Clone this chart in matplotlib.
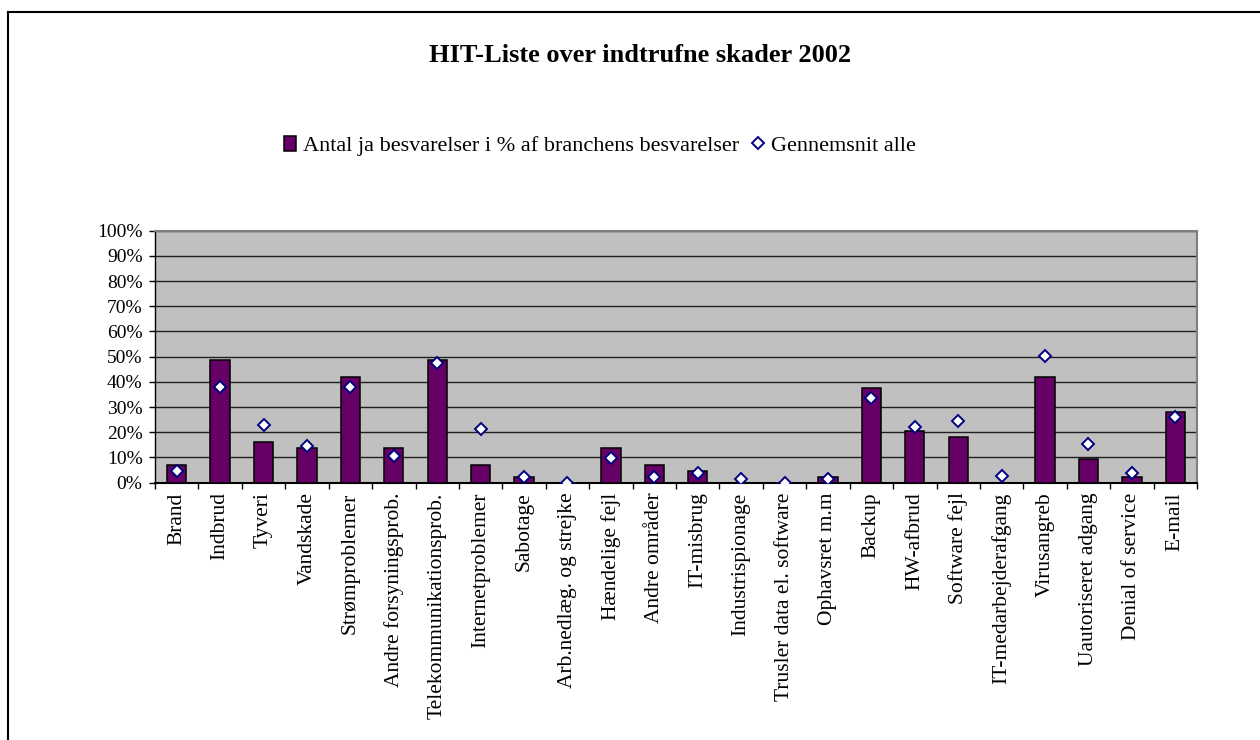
import matplotlib.pyplot as plt
import numpy as np
from matplotlib.lines import Line2D

plt.rcParams["font.family"] = ["Liberation Serif", "DejaVu Serif"]

categories = [
    "Brand",
    "Indbrud",
    "Tyveri",
    "Vandskade",
    "Strømproblemer",
    "Andre forsyningsprob.",
    "Telekommunikationsprob.",
    "Internetproblemer",
    "Sabotage",
    "Arb.nedlæg. og strejke",
    "Hændelige fejl",
    "Andre områder",
    "IT-misbrug",
    "Industrispionage",
    "Trusler data el. software",
    "Ophavsret m.m",
    "Backup",
    "HW-afbrud",
    "Software fejl",
    "IT-medarbejderafgang",
    "Virusangreb",
    "Uautoriseret adgang",
    "Denial of service",
    "E-mail",
]

# Antal ja besvarelser i % af branchens besvarelser
branche_pct = [7.0, 48.7, 16.1, 13.6, 42.1, 13.6, 48.7, 6.9, 2.4, 0.0, 13.6, 6.9,
               4.8, 0.0, 0.0, 2.4, 37.5, 20.6, 18.3, 0.0, 42.1, 9.3, 2.4, 28.2]

# Gennemsnit alle
avg_pct = [4.6, 38.1, 22.9, 14.6, 38.1, 10.6, 47.4, 21.3, 2.3, 0.0, 9.9, 2.4,
           4.0, 1.3, 0.0, 1.6, 33.5, 22.2, 24.5, 2.5, 50.4, 15.4, 4.0, 25.9]

TITLE = "HIT-Liste over indtrufne skader 2002"
BAR_LABEL = "Antal ja besvarelser i % af branchens besvarelser"
AVG_LABEL = "Gennemsnit alle"

W, H = 1260, 740

fig = plt.figure(figsize=(W / 100, H / 100), dpi=100, facecolor="white")
ax = fig.add_axes([155 / W, 1 - 482.7 / H, (1197 - 155) / W, (482.7 - 230.7) / H])
ax.set_facecolor("#c0c0c0")

x = np.arange(len(categories))
bars = ax.bar(
    x,
    branche_pct,
    width=0.445,
    color="#660066",
    edgecolor="black",
    linewidth=1.1,
    zorder=3,
    label=BAR_LABEL,
)
(avg_line,) = ax.plot(
    x,
    avg_pct,
    linestyle="none",
    marker="D",
    markersize=6.0,
    markerfacecolor="white",
    markeredgecolor="#000080",
    markeredgewidth=1.4,
    zorder=4,
    label=AVG_LABEL,
)

ax.set_xlim(-0.5, len(categories) - 0.5)
ax.set_ylim(0, 100)

yticks = np.arange(0, 101, 10)
ax.set_yticks(yticks)
ax.set_yticklabels([f"{v}%" for v in yticks], fontsize=14)
ax.tick_params(axis="y", direction="out", length=4.0, width=1, color="black", pad=5)

ax.set_xticks(x)
ax.set_xticklabels(categories, rotation=90, fontsize=15.5)
ax.tick_params(axis="x", which="major", length=0, pad=7)
ax.set_xticks(np.arange(-0.5, len(categories), 1.0), minor=True)
ax.tick_params(axis="x", which="minor", direction="out", length=4.5, width=1, color="black")

ax.yaxis.grid(True, color="#202020", linewidth=1.0)
ax.set_axisbelow(True)

ax.spines["left"].set_color("black")
ax.spines["left"].set_linewidth(1.0)
ax.spines["bottom"].set_color("black")
ax.spines["bottom"].set_linewidth(1.5)
for side in ["top", "right"]:
    ax.spines[side].set_color("#808080")
    ax.spines[side].set_linewidth(1.5)

fig.text(640 / W, 1 - 55 / H, TITLE, ha="center", va="center", fontsize=19, fontweight="bold")

fig.legend(
    [bars, avg_line],
    [BAR_LABEL, AVG_LABEL],
    loc="center",
    bbox_to_anchor=(600 / W, 1 - 146 / H),
    ncol=2,
    frameon=False,
    fontsize=16,
    handlelength=0.55,
    handleheight=0.65,
    handletextpad=0.3,
    columnspacing=0.6,
)

# chart area border (cut off at right and bottom)
fig.add_artist(Line2D([8 / W, 1], [1 - 11.7 / H] * 2, transform=fig.transFigure, color="black", lw=1.5))
fig.add_artist(Line2D([8 / W] * 2, [0, 1 - 11.7 / H], transform=fig.transFigure, color="black", lw=1.5))

fig.savefig("out.png", dpi=100, facecolor="white")
